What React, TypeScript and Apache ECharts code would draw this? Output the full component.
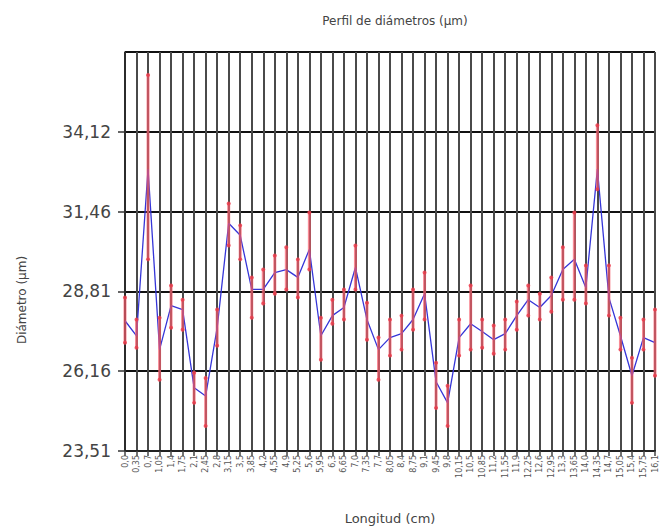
import React, { useEffect, useRef } from "react";
import * as echarts from "echarts";

const TITLE = "Perfil de diámetros (µm)";
const X_NAME = "Longitud (cm)";
const Y_NAME = "Diámetro (µm)";

const BASE = 23.51;
const STEP = 2.6525;

const positions: number[] = [
  0, 0.35, 0.7, 1.05, 1.4, 1.75, 2.1, 2.45, 2.8, 3.15, 3.5, 3.85, 4.2, 4.55, 4.9, 5.25,
  5.6, 5.95, 6.3, 6.65, 7.0, 7.35, 7.7, 8.05, 8.4, 8.75, 9.1, 9.45, 9.8, 10.15, 10.5,
  10.85, 11.2, 11.55, 11.9, 12.25, 12.6, 12.95, 13.3, 13.65, 14.0, 14.35, 14.7, 15.05,
  15.4, 15.75, 16.1,
];

const meanValues: number[] = [
  27.84, 27.34, 32.88, 26.88, 28.34, 28.21, 25.61, 25.34, 27.61, 31.08, 30.68, 28.88,
  28.88, 29.44, 29.54, 29.28, 30.21, 27.34, 28.01, 28.28, 29.61, 27.88, 26.88, 27.28,
  27.41, 27.88, 28.74, 25.81, 25.11, 27.28, 27.74, 27.48, 27.21, 27.41, 28.01, 28.54,
  28.28, 28.68, 29.54, 29.88, 28.94, 32.88, 28.61, 27.34, 26.01, 27.28, 27.11,
];

const highValues: number[] = [
  28.61, 27.88, 36.01, 27.94, 29.01, 28.54, 26.11, 25.94, 28.21, 31.74, 31.01, 29.28,
  29.54, 30.01, 30.28, 29.88, 31.44, 27.94, 28.54, 28.88, 30.34, 28.44, 27.28, 27.88,
  28.01, 28.88, 29.44, 26.44, 25.68, 27.88, 29.01, 27.88, 27.68, 27.88, 28.48, 29.01,
  28.74, 29.28, 30.28, 31.44, 29.68, 34.34, 29.68, 27.94, 26.61, 27.88, 28.21,
];

const lowValues: number[] = [
  27.11, 26.94, 29.88, 25.88, 27.61, 27.54, 25.11, 24.34, 27.01, 30.34, 29.88, 27.94,
  28.41, 28.74, 28.88, 28.61, 29.54, 26.54, 27.74, 27.88, 28.88, 27.21, 25.88, 26.68,
  26.88, 27.54, 27.88, 24.94, 24.34, 26.68, 26.88, 26.94, 26.74, 26.88, 27.54, 28.01,
  27.88, 28.14, 28.54, 28.54, 28.41, 32.21, 28.01, 26.88, 25.11, 26.88, 26.01,
];

function fmtPos(v: number): string {
  let s = v.toFixed(2);
  s = s.replace(/0$/, "");
  return s.replace(".", ",");
}

function fmtY(v: number): string {
  const real = Math.floor((v + BASE) * 100 + 1e-6) / 100;
  return real.toFixed(2).replace(".", ",");
}

export default function App() {
  const ref = useRef<HTMLDivElement>(null);

  useEffect(() => {
    if (!ref.current) return;
    const chart = echarts.init(ref.current, undefined, { renderer: "svg" });
    const cats = positions.map(fmtPos);
    const lineData = meanValues.map((v) => v - BASE);
    const errData = highValues.map((h, i) => [i, h - BASE, lowValues[i] - BASE]);

    chart.setOption({
      animation: false,
      backgroundColor: "#ffffff",
      textStyle: { fontFamily: "DejaVu Sans, sans-serif" },
      title: {
        text: TITLE,
        left: 390,
        top: 10,
        textAlign: "center",
        textStyle: { fontSize: 12, fontWeight: "normal", color: "#444" },
      },
      graphic: [
        {
          type: "text",
          x: 22,
          y: 300,
          rotation: Math.PI / 2,
          style: {
            text: Y_NAME,
            fontSize: 12,
            fill: "#444",
            textAlign: "center",
            textVerticalAlign: "middle",
            fontFamily: "DejaVu Sans, sans-serif",
          },
        },
      ],
      grid: { left: 125, right: 10, top: 52, bottom: 77, containLabel: false },
      xAxis: {
        type: "category",
        data: cats,
        boundaryGap: false,
        name: X_NAME,
        nameLocation: "middle",
        nameGap: 61,
        nameTextStyle: { fontSize: 13, color: "#444" },
        axisLine: { lineStyle: { color: "#222", width: 2 } },
        axisTick: { show: true, length: 5, lineStyle: { color: "#444", width: 1.5 } },
        axisLabel: { rotate: 90, fontSize: 8, color: "#555", interval: 0, margin: 4 },
        splitLine: { show: true, interval: 0, lineStyle: { color: "#4a4a4a", width: 2 } },
      },
      yAxis: {
        type: "value",
        min: 0,
        max: STEP * 5,
        interval: STEP,
        axisLine: { show: true, lineStyle: { color: "#222", width: 1.5 } },
        axisTick: { show: true, length: 7, lineStyle: { color: "#333", width: 1.5 } },
        axisLabel: {
          fontSize: 17,
          color: "#444",
          margin: 14,
          formatter: (v: number) => fmtY(v),
          showMaxLabel: false,
        },
        splitLine: { show: true, lineStyle: { color: "#111", width: 2 } },
      },
      series: [
        {
          type: "line",
          data: lineData,
          symbol: "none",
          lineStyle: { color: "#3535d8", width: 1.3 },
          z: 3,
        },
        {
          type: "custom",
          data: errData,
          z: 4,
          renderItem: (params: any, api: any) => {
            const i = api.value(0);
            const top = api.coord([i, api.value(1)]);
            const bot = api.coord([i, api.value(2)]);
            const color = "rgba(245,90,105,0.7)";
            return {
              type: "group",
              children: [
                {
                  type: "line",
                  shape: { x1: top[0], y1: top[1], x2: bot[0], y2: bot[1] },
                  style: { stroke: color, lineWidth: 3 },
                },
                {
                  type: "circle",
                  shape: { cx: top[0], cy: top[1], r: 2 },
                  style: { fill: "rgba(235,60,75,0.85)" },
                },
                {
                  type: "circle",
                  shape: { cx: bot[0], cy: bot[1], r: 2 },
                  style: { fill: "rgba(235,60,75,0.85)" },
                },
              ],
            };
          },
        },
      ],
    });
    return () => chart.dispose();
  }, []);

  return (
    <div
      ref={ref}
      style={{ position: "absolute", left: 0, top: 0, width: 665, height: 530 }}
    />
  );
}
